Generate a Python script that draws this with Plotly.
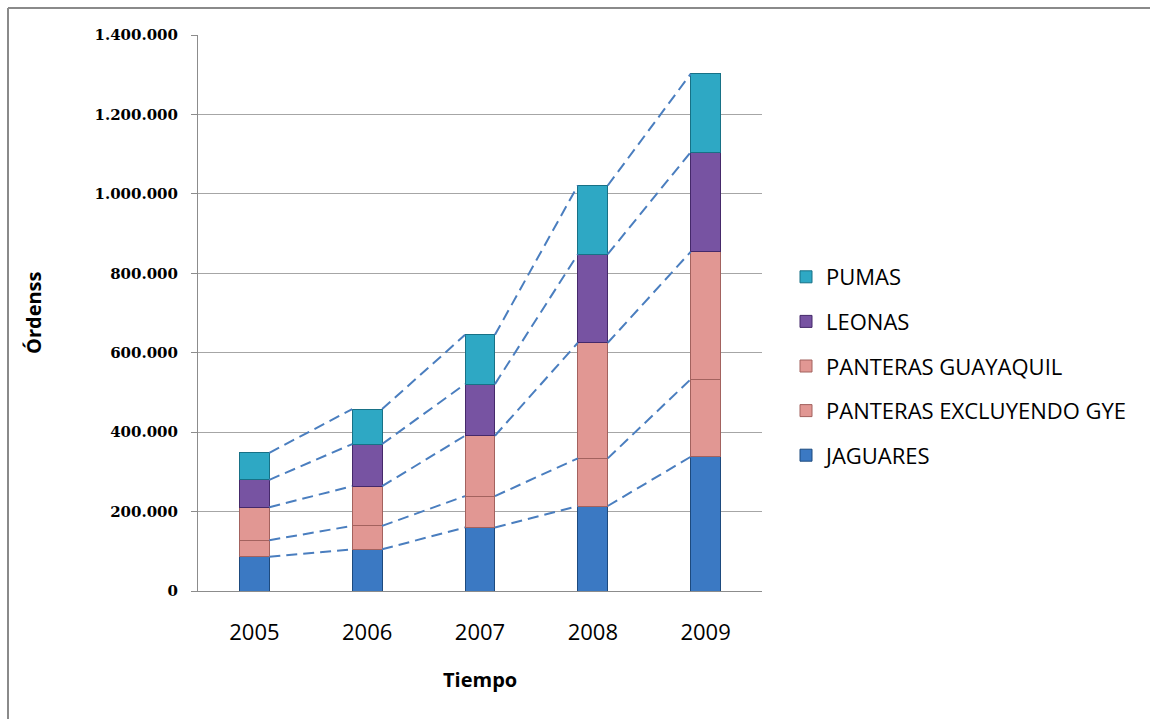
import plotly.graph_objects as go
import numpy as np

# Years on the category axis
years = ["2005", "2006", "2007", "2008", "2009"]

# Orders per series (stack order bottom -> top)
jaguares = [86000, 105000, 160000, 214000, 338000]
panteras_excl_gye = [42000, 59000, 79000, 120000, 195000]
panteras_guayaquil = [83000, 100000, 152000, 291000, 321000]
leonas = [69000, 106000, 130000, 223000, 251000]
pumas = [68000, 88000, 124000, 173000, 197000]

series_names = ["JAGUARES", "PANTERAS EXCLUYENDO GYE", "PANTERAS GUAYAQUIL",
                "LEONAS", "PUMAS"]
series_values = [jaguares, panteras_excl_gye, panteras_guayaquil, leonas, pumas]
fill_colors = ["#3b79c3", "#e19793", "#e19793", "#7753a2", "#2ea8c4"]
edge_colors = ["#1d4a7e", "#a3625e", "#a3625e", "#45296a", "#177186"]

y_ticks = [0, 200000, 400000, 600000, 800000, 1000000, 1200000, 1400000]

BAR_W = 0.265
x_pos = list(range(len(years)))

fig = go.Figure()

n = len(series_names)
for k, (name, vals, fc, ec) in enumerate(zip(series_names, series_values, fill_colors, edge_colors)):
    fig.add_trace(go.Bar(
        x=x_pos, y=vals, name=name, width=BAR_W,
        marker=dict(color=fc, line=dict(color=ec, width=1)),
        legendgroup=name, legendrank=n - k,
    ))

# Series lines joining the top of each stacked segment between neighbouring bars
cum = np.cumsum(np.array(series_values), axis=0)
for level in cum:
    xs, ys = [], []
    for i in range(len(years) - 1):
        xs += [x_pos[i] + BAR_W / 2, x_pos[i + 1] - BAR_W / 2, None]
        ys += [level[i], level[i + 1], None]
    fig.add_trace(go.Scatter(
        x=xs, y=ys, mode="lines", showlegend=False, hoverinfo="skip",
        line=dict(color="#4a7ebf", width=2, dash="11px,6px"),
    ))

L, R, T, B = 198, 388, 35, 128
W, H = 1150, 719
pw, ph = W - L - R, H - T - B

fig.update_layout(
    width=W, height=H,
    margin=dict(l=L, r=R, t=T, b=B),
    barmode="stack",
    separators=",.",
    plot_bgcolor="white", paper_bgcolor="white",
    font=dict(family="Open Sans", color="#000000"),
    legend=dict(
        traceorder="grouped", tracegroupgap=13,
        x=(786 - L) / pw, xanchor="left",
        y=(H - B - 256) / ph, yanchor="top",
        font=dict(family="Open Sans", size=22, color="#000000"),
        bgcolor="rgba(0,0,0,0)",
    ),
    xaxis=dict(
        range=[-0.5, len(years) - 0.5],
        tickvals=x_pos, ticktext=years,
        showgrid=False, zeroline=False,
        showline=True, linecolor="#8c8c8c", linewidth=1,
        ticks="", tickfont=dict(family="Open Sans", size=22, color="#000000"),
        ticklabelstandoff=22,
    ),
    yaxis=dict(
        range=[0, 1400000], tickvals=y_ticks, tickformat=",d",
        showgrid=True, gridcolor="#a6a6a6", gridwidth=1,
        zeroline=False,
        showline=True, linecolor="#8c8c8c", linewidth=1,
        ticks="outside", ticklen=6, tickcolor="#8c8c8c",
        tickfont=dict(family="DejaVu Serif", size=15, color="#000000", weight="bold"),
        ticklabelstandoff=10,
    ),
    annotations=[
        dict(text="<b>Órdenss</b>", textangle=-90, xref="paper", yref="paper",
             x=(33 - L) / pw, y=0.5, xanchor="center", yanchor="middle",
             showarrow=False, font=dict(family="Open Sans", size=20, color="#000000")),
        dict(text="<b>Tiempo</b>", xref="paper", yref="paper",
             x=0.5, y=-(679 - (H - B)) / ph, xanchor="center", yanchor="middle",
             showarrow=False, font=dict(family="Open Sans", size=20, color="#000000")),
    ],
    shapes=[
        # chart frame (left and top edges)
        dict(type="line", xref="paper", yref="paper",
             x0=(8 - L) / pw, x1=(8 - L) / pw, y0=(H - B - 8) / ph, y1=-(B + 5) / ph,
             line=dict(color="#8a8a8a", width=2)),
        dict(type="line", xref="paper", yref="paper",
             x0=(8 - L) / pw, x1=(W + 5 - L) / pw, y0=(H - B - 8) / ph, y1=(H - B - 8) / ph,
             line=dict(color="#8a8a8a", width=2)),
    ],
)

fig.write_html("out.html")
